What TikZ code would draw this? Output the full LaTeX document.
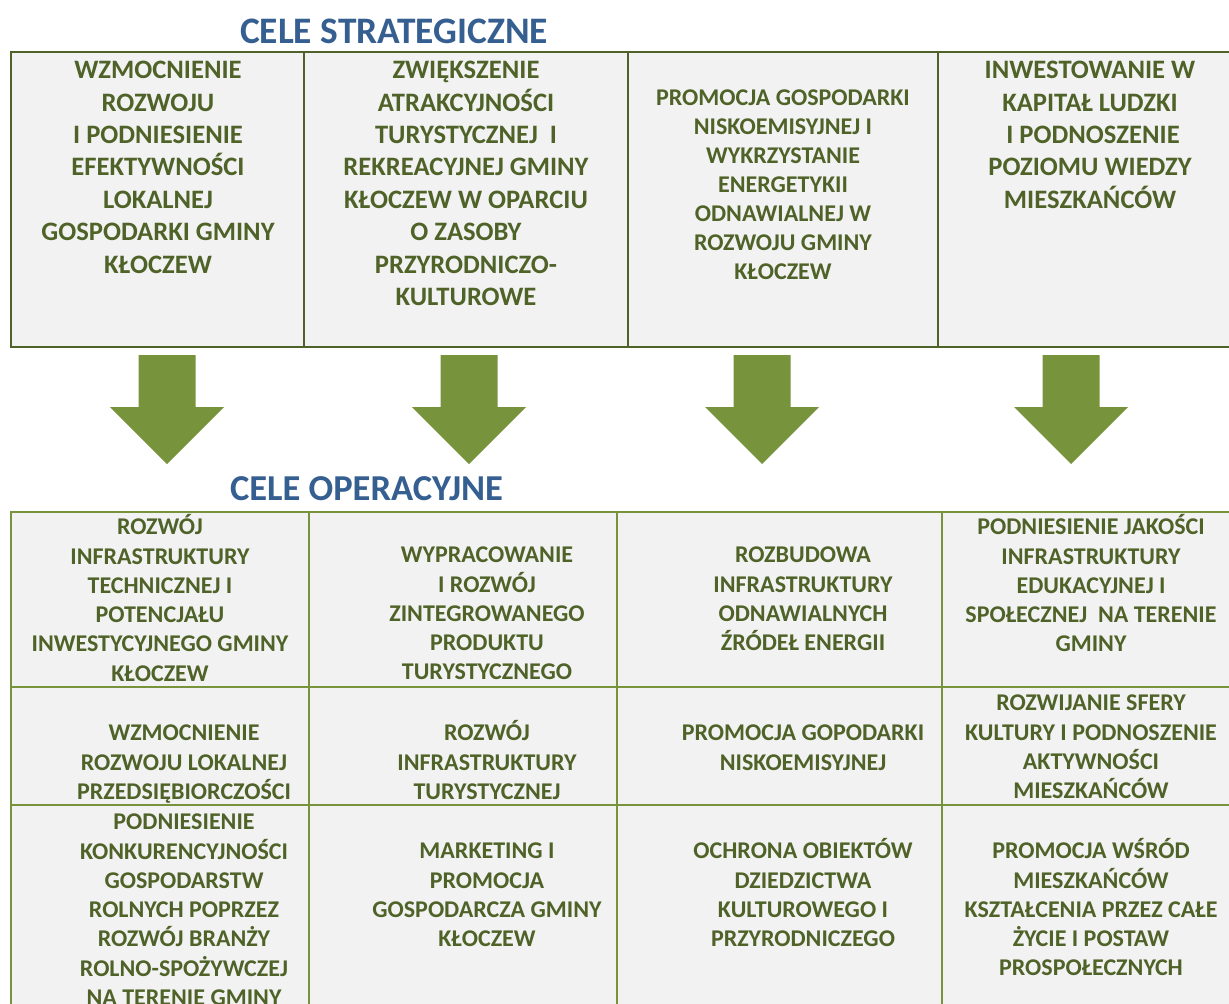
\documentclass[tikz,border=0pt]{standalone}
\usepackage{fontspec}
\setmainfont{Carlito}
\definecolor{darkolive}{HTML}{4F6228}
\definecolor{lightolive}{HTML}{77933C}
\definecolor{titleblue}{HTML}{365F91}
\definecolor{cellgray}{HTML}{F2F2F2}
\tikzset{
  title/.style={anchor=base, inner sep=0pt, text=titleblue,
    font=\fontsize{37.4}{44}\selectfont\bfseries},
  topgrid/.style={draw=darkolive, line width=2pt},
  botgrid/.style={draw=lightolive, line width=2pt},
  % multi-line nodes sit on the baseline of their last line
  bigtext/.style={anchor=base, inner sep=0pt, align=center, text=darkolive,
    font=\fontsize{26.6}{32.4}\selectfont\bfseries},
  midtext/.style={anchor=base, inner sep=0pt, align=center, text=darkolive,
    font=\fontsize{24}{29}\selectfont\bfseries},
  smalltext/.style={anchor=base, inner sep=0pt, align=center, text=darkolive,
    font=\fontsize{24}{29.3}\selectfont\bfseries}
}
\begin{document}
\begin{tikzpicture}[x=1pt,y=-1pt]
    \clip (0,0) rectangle (1229,1004);
    \fill[white] (0,0) rectangle (1229,1004);

    % Titles
    \node[title] (strat) at (394,43) {CELE STRATEGICZNE};
    \node[title, font=\fontsize{36.5}{42}\selectfont\bfseries] (oper) at (366.5,500.5) {CELE OPERACYJNE};

    % Top table
    \filldraw[topgrid, fill=cellgray] (11,52) rectangle (1240,347);
    \foreach \x in {304,628,938} {
      \draw[topgrid] (\x,52) -- (\x,347);
    }

    \node[bigtext] (s1) at (158,273.0) {WZMOCNIENIE\\ROZWOJU\\I PODNIESIENIE\\EFEKTYWNOŚCI\\LOKALNEJ\\GOSPODARKI GMINY\\KŁOCZEW};
    \node[bigtext] (s2) at (466,305.4) {ZWIĘKSZENIE\\ATRAKCYJNOŚCI\\TURYSTYCZNEJ \ I\\REKREACYJNEJ GMINY\\KŁOCZEW W OPARCIU\\O ZASOBY\\PRZYRODNICZO-\\KULTUROWE};
    \node[midtext] (s3) at (783,279.7) {PROMOCJA GOSPODARKI\\NISKOEMISYJNEJ I\\WYKRZYSTANIE\\ENERGETYKII\\ODNAWIALNEJ W\\ROZWOJU GMINY\\KŁOCZEW};
    \node[bigtext] (s4) at (1090,208.2) {INWESTOWANIE W\\KAPITAŁ LUDZKI\\\ I PODNOSZENIE\\POZIOMU WIEDZY\\MIESZKAŃCÓW};

    % Block arrows between the tables
    \foreach \c in {167,469,762,1071} {
      \fill[lightolive] (\c-28.5,355) -- (\c+28.5,355) -- (\c+28.5,407) -- (\c+57,407)
        -- (\c,464) -- (\c-57,407) -- (\c-28.5,407) -- cycle;
    }

    % Bottom table
    \filldraw[botgrid, fill=cellgray] (11,512) rectangle (1240,1030);
    \foreach \x in {309,617,942} {
      \draw[botgrid] (\x,512) -- (\x,1030);
    }
    \foreach \y in {687,805} {
      \draw[botgrid] (11,\y) -- (1240,\y);
    }

    \node[smalltext] (o11) at (160,681.2) {ROZWÓJ\\INFRASTRUKTURY\\TECHNICZNEJ I\\POTENCJAŁU\\INWESTYCYJNEGO GMINY\\KŁOCZEW};
    \node[smalltext] (o12) at (487,679.9) {WYPRACOWANIE\\I ROZWÓJ\\ZINTEGROWANEGO\\PRODUKTU\\TURYSTYCZNEGO};
    \node[smalltext] (o13) at (803,650.6) {ROZBUDOWA\\INFRASTRUKTURY\\ODNAWIALNYCH\\ŹRÓDEŁ ENERGII};
    \node[smalltext] (o14) at (1091,651.9) {PODNIESIENIE JAKOŚCI\\INFRASTRUKTURY\\EDUKACYJNEJ I\\SPOŁECZNEJ \ NA TERENIE\\GMINY};

    \node[smalltext] (o21) at (184,799.3) {WZMOCNIENIE\\ROZWOJU LOKALNEJ\\PRZEDSIĘBIORCZOŚCI};
    \node[smalltext] (o22) at (487,799.3) {ROZWÓJ\\INFRASTRUKTURY\\TURYSTYCZNEJ};
    \node[smalltext] (o23) at (803,770.0) {PROMOCJA GOPODARKI\\NISKOEMISYJNEJ};
    \node[smalltext] (o24) at (1091,798.6) {ROZWIJANIE SFERY\\KULTURY I PODNOSZENIE\\AKTYWNOŚCI\\MIESZKAŃCÓW};

    \node[smalltext] (o31) at (184,1005.5) {PODNIESIENIE\\KONKURENCYJNOŚCI\\GOSPODARSTW\\ROLNYCH POPRZEZ\\ROZWÓJ BRANŻY\\ROLNO-SPOŻYWCZEJ\\NA TERENIE GMINY};
    \node[smalltext] (o32) at (487,946.6) {MARKETING I\\PROMOCJA\\GOSPODARCZA GMINY\\KŁOCZEW};
    \node[smalltext] (o33) at (803,946.6) {OCHRONA OBIEKTÓW\\DZIEDZICTWA\\KULTUROWEGO I\\PRZYRODNICZEGO};
    \node[smalltext] (o34) at (1091,975.9) {PROMOCJA WŚRÓD\\MIESZKAŃCÓW\\KSZTAŁCENIA PRZEZ CAŁE\\ŻYCIE I POSTAW\\PROSPOŁECZNYCH};
\end{tikzpicture}
\end{document}
